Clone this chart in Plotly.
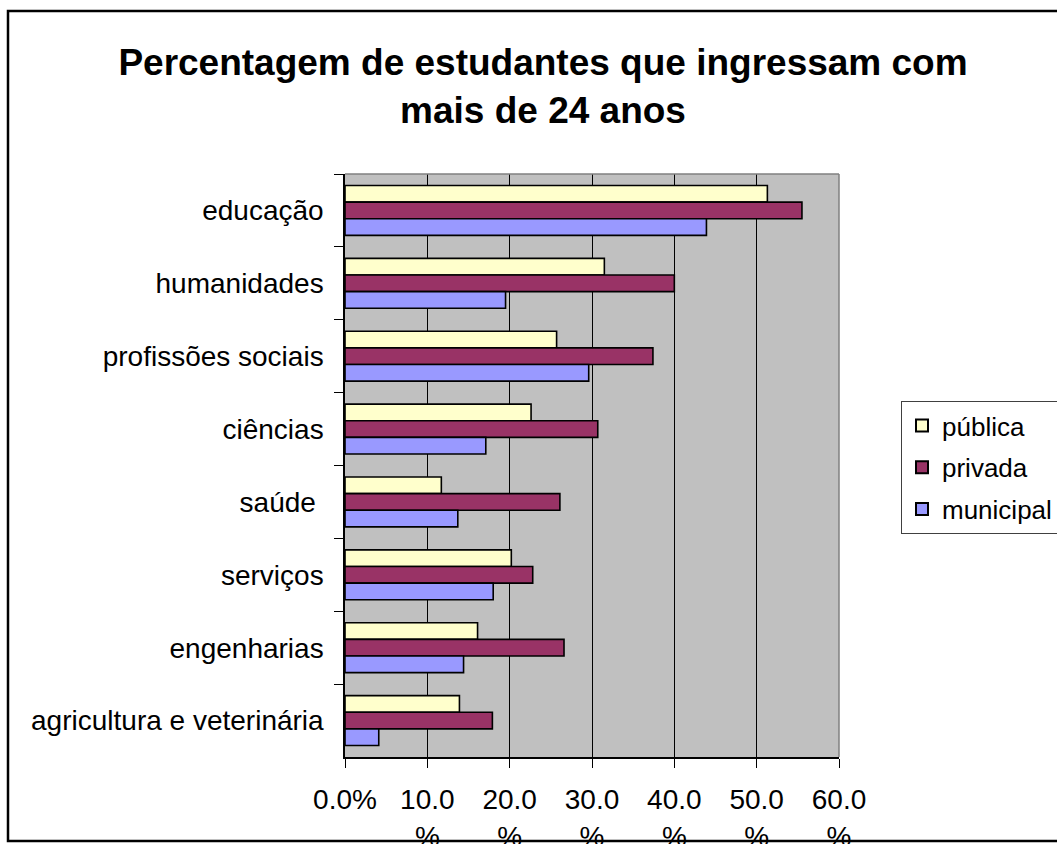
import plotly.graph_objects as go

categories = ["educação", "humanidades", "profissões sociais", "ciências",
              "saúde ", "serviços", "engenharias", "agricultura e veterinária"]
publica = [51.3, 31.5, 25.7, 22.6, 11.7, 20.2, 16.1, 13.9]
privada = [55.5, 40.0, 37.4, 30.7, 26.1, 22.8, 26.6, 17.9]
municipal = [43.9, 19.5, 29.6, 17.1, 13.7, 18.0, 14.4, 4.1]
series_names = ["pública", "privada", "municipal"]
series_colors = ["#FFFFCC", "#993366", "#9999FF"]
x_tickvals = [0, 10, 20, 30, 40, 50, 60]
x_ticktext = ["0.0%", "10.0<br>%", "20.0<br>%", "30.0<br>%", "40.0<br>%", "50.0<br>%", "60.0<br>%"]
title_text = "Percentagem de estudantes que ingressam com<br>mais de 24 anos"

W, H = 1057, 844
L, R, T, B = 345, 839, 174, 757
FONT = "Liberation Sans, Arial, sans-serif"

fig = go.Figure()
for name, vals, col in zip(series_names, [publica, privada, municipal], series_colors):
    fig.add_trace(go.Bar(
        y=categories, x=vals, name=name, orientation="h",
        marker=dict(color=col, line=dict(color="black", width=1.6)),
        legendgroup=name,
    ))

def px_x(p):
    return (p - L) / (R - L)

def px_y(p):
    return (B - p) / (B - T)

shapes = [
    # outer chart border
    dict(type="rect", xref="paper", yref="paper",
         x0=px_x(8), x1=px_x(1070), y0=px_y(841), y1=px_y(11),
         line=dict(color="black", width=2.5), fillcolor="rgba(0,0,0,0)", layer="above"),
    # gray top and right edges of plot area
    dict(type="line", xref="paper", yref="paper", x0=0, x1=1, y0=1, y1=1,
         line=dict(color="#808080", width=1.5), layer="above"),
    dict(type="line", xref="paper", yref="paper", x0=1, x1=1, y0=0, y1=1,
         line=dict(color="#808080", width=1.5), layer="above"),
]

fig.update_layout(
    width=W, height=H,
    margin=dict(l=L, r=W - R, t=T, b=H - B, pad=0, autoexpand=False),
    paper_bgcolor="white", plot_bgcolor="#C0C0C0",
    font=dict(family=FONT, size=28, color="black"),
    barmode="group", bargap=0.315, bargroupgap=0,
    title=dict(text="<b>" + title_text + "</b>", x=543 / W, xanchor="center",
               xref="container", yref="container", y=1 - 75 / H, yanchor="top",
               font=dict(family=FONT, size=37, color="black")),
    showlegend=True,
    legend=dict(xref="container", yref="container", x=901 / W, y=1 - 401 / H,
                xanchor="left", yanchor="top",
                bgcolor="white", bordercolor="#404040", borderwidth=1,
                font=dict(family=FONT, size=26, color="black"),
                tracegroupgap=5, traceorder="grouped", itemsizing="constant",
                itemwidth=30),
    shapes=shapes,
)

fig.update_xaxes(
    range=[0, 60], tickvals=x_tickvals, ticktext=x_ticktext,
    showgrid=True, gridcolor="black", gridwidth=1,
    showline=True, linecolor="black", linewidth=1.5,
    ticks="outside", ticklen=9, tickcolor="black", tickwidth=1,
    zeroline=False, fixedrange=True, automargin=False, ticklabelstandoff=8,
)
fig.update_yaxes(
    categoryorder="array", categoryarray=categories, autorange="reversed",
    showgrid=False, showline=True, linecolor="black", linewidth=1.5,
    ticks="outside", ticklen=9, tickcolor="black", tickwidth=1,
    tickson="boundaries", ticklabelstandoff=14, automargin=False,
)

fig.write_html("out.html")
